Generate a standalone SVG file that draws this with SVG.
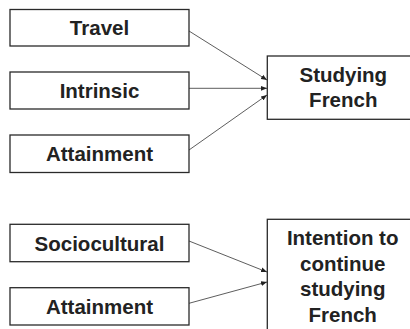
<svg xmlns="http://www.w3.org/2000/svg" width="410" height="329" viewBox="0 0 410 329">
<style>
.box{fill:#fff;stroke:#2a2a2a;stroke-width:1.3}
.t{font-family:"Liberation Sans",Arial,sans-serif;font-weight:bold;font-size:20.5px;fill:#222;text-anchor:middle}
.c{stroke:#333;stroke-width:0.8;fill:none;marker-end:url(#ah)}
</style>
<defs>
<marker id="ah" viewBox="0 0 10 10" refX="10" refY="5" markerWidth="6" markerHeight="6" markerUnits="userSpaceOnUse" orient="auto">
<path d="M0,1 L10,5 L0,9 z" fill="#222"/>
</marker>
</defs>
<rect width="410" height="329" fill="#fff"/>
<g id="connectors">
<line class="c" x1="189" y1="31" x2="267" y2="80"/>
<line class="c" x1="189" y1="88.3" x2="267" y2="88.3"/>
<line class="c" x1="189" y1="150" x2="267" y2="95"/>
<line class="c" x1="189" y1="241" x2="267" y2="272"/>
<line class="c" x1="189" y1="303.3" x2="267" y2="282"/>
</g>
<g id="travel"><rect class="box" x="10" y="9.5" width="179" height="36.5"/><text class="t" x="99.5" y="35">Travel</text></g>
<g id="intrinsic"><rect class="box" x="10" y="72" width="179" height="37"/><text class="t" x="99.5" y="97.8">Intrinsic</text></g>
<g id="attainment1"><rect class="box" x="10" y="135" width="179" height="37.5"/><text class="t" x="99.5" y="161">Attainment</text></g>
<g id="studying"><rect class="box" x="267.3" y="56" width="152" height="63.3"/><text class="t" x="343.3" y="81.5">Studying</text><text class="t" x="343.3" y="106.5">French</text></g>
<g id="sociocultural"><rect class="box" x="10" y="224.3" width="179" height="37.4"/><text class="t" x="99.5" y="250.6">Sociocultural</text></g>
<g id="attainment2"><rect class="box" x="10" y="287.7" width="179" height="37.3"/><text class="t" x="99.5" y="313.5">Attainment</text></g>
<g id="intention"><rect class="box" x="267.3" y="219.3" width="152" height="130"/><text class="t" x="342.7" y="245">Intention to</text><text class="t" x="342.7" y="270.5">continue</text><text class="t" x="342.7" y="296">studying</text><text class="t" x="342.7" y="322">French</text></g>
</svg>
